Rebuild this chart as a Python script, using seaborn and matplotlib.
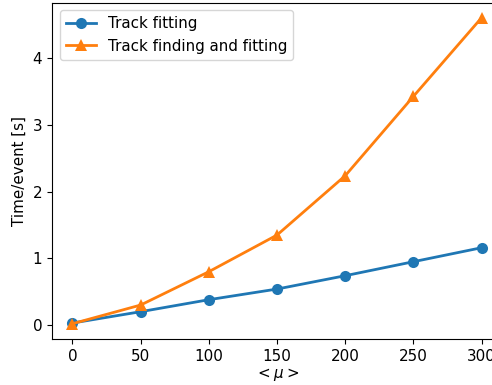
import matplotlib
matplotlib.use("Agg")
import matplotlib.pyplot as plt
import seaborn as sns
import pandas as pd

mu = [0, 50, 100, 150, 200, 250, 300]
track_fitting = [0.03, 0.20, 0.38, 0.54, 0.74, 0.95, 1.16]
track_finding_fitting = [0.02, 0.30, 0.80, 1.35, 2.24, 3.43, 4.61]
series_names = ["Track fitting", "Track finding and fitting"]

df = pd.DataFrame({
    "mu": mu * 2,
    "time": track_fitting + track_finding_fitting,
    "series": [series_names[0]] * len(mu) + [series_names[1]] * len(mu),
})

plt.rcParams["font.size"] = 10.9

fig = plt.figure(figsize=(4.92, 3.85), dpi=100)
ax = fig.add_axes([0.1057, 0.1195, 0.9146, 0.874])
sns.lineplot(data=df, x="mu", y="time", hue="series", style="series",
             markers=["o", "^"], dashes=False, markersize=8, linewidth=2,
             markeredgewidth=0, palette=["#1f77b4", "#ff7f0e"], ax=ax)
ax.set_xticks([0, 50, 100, 150, 200, 250, 300])
ax.set_yticks([0, 1, 2, 3, 4])
ax.set_xlabel(r"$<\mu>$", labelpad=2)
ax.set_ylabel("Time/event [s]")
ax.legend(loc="upper left", title=None)
fig.savefig("out.png", dpi=100)
